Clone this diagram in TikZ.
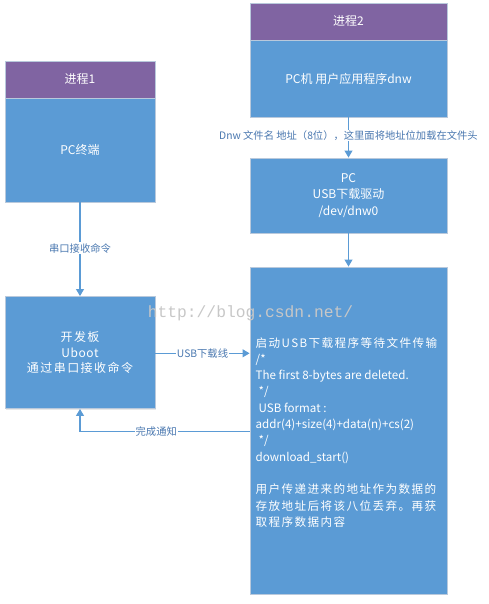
\documentclass[tikz,border=0pt]{standalone}
\usepackage{fontspec}
\setmainfont{Noto Sans CJK SC}
\newfontfamily\wmfont{Liberation Mono}
\newcommand\cjkspread{\addfontfeature{LetterSpace=12}}
\usetikzlibrary{arrows.meta,shadows}
\definecolor{hdrpurple}{HTML}{8064A2}
\definecolor{boxblue}{HTML}{5B9BD5}
\definecolor{edgeblue}{HTML}{5B9BD5}
\definecolor{lblblue}{HTML}{4A78B0}
\definecolor{bordergray}{HTML}{B9C9DC}
\begin{document}
\begin{tikzpicture}[x=1pt,y=-1pt,
  box/.style={draw=bordergray, line width=0.9pt, fill=boxblue, text=white,
    inner sep=0pt, align=center, font=\fontsize{12}{17}\selectfont,
    drop shadow={opacity=0.18, shadow xshift=1.2pt, shadow yshift=-1.2pt}},
  hdr/.style={box, fill=hdrpurple},
  conn/.style={draw=edgeblue, line width=1.1pt, -{Triangle[width=8pt,length=7pt]}},
  plainconn/.style={draw=edgeblue, line width=1.1pt},
  lbl/.style={fill=white, text=lblblue, inner sep=1pt, font=\fontsize{10.3}{12}\selectfont}
]
\useasboundingbox (0,0) rectangle (488,604);

% process 1
\node[box, minimum width=150pt, minimum height=104pt] (p1b) at (80,150) {PC终端};
\node[hdr, minimum width=150pt, minimum height=37pt] (p1h) at (80,79.5) {进程1};

% board
\node[box, minimum width=150pt, minimum height=112pt] (board) at (80,352.5)
  {{\cjkspread 开发板}\\[-1.5pt]{\addfontfeature{LetterSpace=5}Uboot}\\[-1.5pt]{\cjkspread 通过串口接收命令}};

% process 2
\node[box, minimum width=197pt, minimum height=77pt] (p2b) at (348.5,78.5) {PC机 用户应用程序dnw};
\node[hdr, minimum width=197pt, minimum height=37pt] (p2h) at (348.5,21.5) {进程2};

% PC USB driver
\node[box, minimum width=197pt, minimum height=75pt] (usb) at (348.5,195.5)
  {PC\\[-0.5pt]USB下载驱动\\[-0.5pt]/dev/dnw0};

% big box
\node[box, minimum width=197pt, minimum height=327pt] (big) at (348.5,430.5) {};
\node[anchor=north west, text=white, inner sep=0pt, align=left,
  font=\fontsize{11.6}{16.3}\selectfont] (bigtext) at (255.5,337)
  {{\cjkspread 启动USB下载程序等待文件传输}\\
   /*\\
   The first 8-bytes are deleted.\\
   \hspace*{3pt}*/\\
   \hspace*{3pt}USB format :\\
   addr(4)+size(4)+data(n)+cs(2)\\
   \hspace*{3pt}*/\\
   download\_start()\\
   \mbox{}\\
   {\cjkspread 用户传递进来的地址作为数据的}\\
   {\cjkspread 存放地址后将该八位丢弃。再获}\\
   {\cjkspread 取程序数据内容}};

% watermark
\node[text=black!22, inner sep=0pt, font=\wmfont\fontsize{16.3}{18}\selectfont] (wm) at (250.5,313) {http://blog.csdn.net/};

% connectors
\draw[conn] (p1b.south) -- node[lbl, pos=0.49] (l1) {串口接收命令} (board.north);
\draw[conn] (p2b.south) -- node[lbl, pos=0.45] (l2) {Dnw 文件名 地址（8位），这里面将地址位加载在文件头} (usb.north);
\draw[conn] (usb.south) -- (big.north);
\coordinate (usbstart) at (board.east |- 0,353.3);
\coordinate (usbend) at (big.west |- 0,353.3);
\draw[conn] (usbstart) -- node[lbl, pos=0.5] (l3) {USB下载线} (usbend);
\coordinate (donestart) at (big.west |- 0,431.7);
\coordinate (donecorner) at (board.south |- 0,431.7);
\draw[plainconn] (donestart) -- node[lbl, pos=0.55] (l4) {完成通知} (donecorner);
\draw[conn] (donecorner) -- (board.south);
\end{tikzpicture}
\end{document}
